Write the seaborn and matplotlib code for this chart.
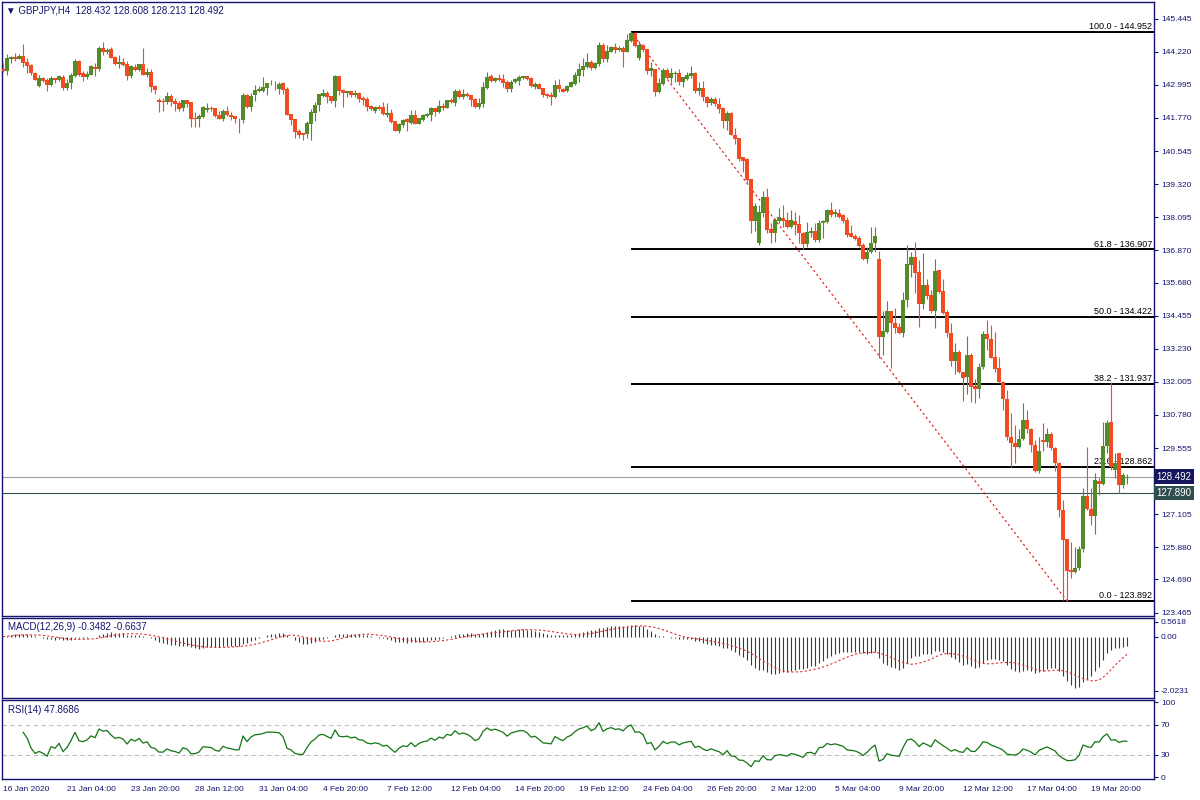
import numpy as np
import pandas as pd
import seaborn as sns
import matplotlib.pyplot as plt
import matplotlib.transforms as mtransforms

# GBPJPY H4 candles, 16 Jan 2020 12:00 -> 23 Mar 2020 08:00
opens = [
    143.583, 143.521, 143.965, 144.027, 143.965, 144.064, 143.829, 143.731, 143.435, 142.953,
    143.250, 143.176, 142.990, 143.250, 143.176, 143.299, 142.892, 143.052, 143.336, 143.879,
    143.422, 143.287, 143.361, 143.669, 143.570, 144.360, 144.212, 144.323, 144.039, 143.768,
    143.842, 143.768, 143.336, 143.669, 143.533, 143.768, 143.361, 143.472, 142.953, 142.448,
    142.411, 142.374, 142.583, 142.398, 142.324, 142.151, 142.435, 142.361, 141.769, 141.744,
    141.806, 142.053, 142.139, 142.127, 141.880, 141.744, 142.028, 141.880, 141.843, 141.744,
    141.695, 142.620, 142.188, 142.620, 142.768, 142.768, 142.892, 143.052, 143.077, 142.842,
    143.052, 142.842, 141.917, 141.732, 141.288, 141.202, 141.165, 141.547, 141.966, 142.238,
    142.595, 142.707, 142.583, 142.398, 143.324, 142.805, 142.707, 142.768, 142.620, 142.707,
    142.509, 142.472, 142.213, 142.040, 142.164, 142.164, 141.880, 141.966, 141.658, 141.300,
    141.510, 141.720, 141.572, 141.880, 141.547, 141.695, 141.843, 141.880, 142.127, 141.979,
    142.226, 142.151, 142.448, 142.337, 142.768, 142.559, 142.657, 142.620, 142.472, 142.188,
    142.287, 142.892, 143.323, 143.138, 143.262, 143.212, 143.101, 142.842, 143.089, 143.138,
    143.237, 143.323, 143.262, 142.929, 143.015, 142.879, 142.657, 142.620, 142.559, 142.990,
    142.842, 142.768, 142.929, 143.027, 143.336, 143.545, 143.657, 143.829, 143.607, 143.755,
    144.471, 143.953, 144.224, 144.397, 144.286, 144.347, 144.224, 144.619, 144.903, 143.977,
    144.471, 144.323, 143.508, 143.583, 142.744, 143.027, 143.545, 143.262, 143.410, 143.434,
    143.114, 143.212, 143.336, 143.423, 142.781, 142.880, 142.559, 142.312, 142.473, 142.288,
    142.127, 141.671, 141.967, 141.153, 141.029, 140.314, 140.240, 139.512, 137.969, 137.155,
    138.266, 138.858, 137.661, 137.525, 137.969, 138.080, 137.994, 137.723, 137.945, 137.846,
    137.525, 137.106, 137.525, 137.587, 137.254, 137.871, 137.920, 138.364, 138.216, 138.266,
    138.167, 137.994, 137.501, 137.414, 137.340, 137.069, 136.551, 136.798, 137.131, 136.551,
    133.676, 133.861, 134.639, 134.194, 134.046, 133.824, 135.033, 136.341, 136.637, 136.082,
    134.885, 135.589, 135.218, 134.626, 136.144, 135.379, 134.602, 133.800, 132.788, 133.097,
    132.381, 132.171, 132.998, 131.850, 131.739, 132.541, 133.775, 133.590, 132.936, 132.504,
    132.011, 131.357, 129.975, 129.729, 129.580, 129.876, 130.592, 130.246, 129.667, 128.717,
    129.852, 129.790, 130.074, 129.543, 128.988, 127.261, 126.188, 125.040, 124.979, 125.102,
    125.805, 127.791, 127.285, 127.039, 128.347, 128.223, 129.630, 130.530, 128.742, 129.358,
    128.186, 128.432,
]
highs = [
    143.792, 144.138, 144.064, 144.162, 144.138, 144.508, 143.977, 143.768, 143.484, 143.361,
    143.299, 143.237, 143.324, 143.262, 143.361, 143.361, 143.213, 143.447, 143.953, 143.916,
    143.521, 143.509, 143.743, 143.817, 144.446, 144.582, 144.347, 144.397, 144.076, 144.113,
    143.990, 143.891, 143.743, 143.768, 143.768, 144.372, 143.607, 143.570, 142.990, 142.497,
    142.497, 142.731, 142.657, 142.497, 142.398, 142.435, 142.435, 142.361, 142.003, 141.905,
    142.201, 142.324, 142.213, 142.151, 142.040, 142.090, 142.213, 141.991, 141.843, 141.781,
    142.707, 142.657, 142.707, 142.990, 142.953, 143.287, 143.064, 143.176, 143.151, 143.114,
    143.089, 142.929, 141.917, 141.732, 141.350, 141.226, 141.670, 142.090, 142.374, 142.657,
    142.830, 142.768, 142.583, 143.361, 143.324, 142.830, 142.781, 142.768, 142.805, 142.744,
    142.583, 142.559, 142.250, 142.213, 142.250, 142.374, 142.337, 142.090, 141.658, 141.572,
    141.720, 141.757, 142.065, 142.065, 141.757, 141.917, 141.966, 142.164, 142.127, 142.435,
    142.312, 142.435, 142.497, 142.830, 142.855, 142.830, 142.744, 142.620, 142.497, 142.522,
    143.114, 143.459, 143.385, 143.299, 143.385, 143.385, 143.175, 143.175, 143.237, 143.361,
    143.336, 143.323, 143.299, 143.089, 143.052, 142.879, 142.682, 142.719, 143.175, 143.212,
    142.867, 142.990, 143.138, 143.484, 143.792, 144.002, 144.162, 143.916, 143.829, 144.594,
    144.532, 144.471, 144.446, 144.532, 144.446, 144.446, 144.866, 144.952, 144.940, 144.619,
    144.495, 144.323, 143.829, 143.583, 143.237, 143.607, 143.607, 143.607, 143.508, 143.583,
    143.287, 143.484, 143.706, 143.484, 143.102, 143.151, 142.584, 142.559, 142.534, 142.497,
    142.189, 142.041, 142.004, 141.387, 141.029, 140.314, 140.277, 139.512, 138.611, 138.549,
    139.080, 139.191, 137.896, 138.080, 138.426, 138.549, 138.302, 138.364, 138.302, 138.179,
    137.562, 137.908, 137.748, 137.871, 137.994, 137.994, 138.401, 138.673, 138.401, 138.401,
    138.216, 138.093, 137.809, 137.476, 137.414, 137.155, 137.007, 137.748, 137.748, 136.859,
    134.639, 135.009, 134.639, 134.725, 134.170, 135.317, 137.069, 136.822, 137.192, 136.514,
    136.761, 135.798, 135.403, 136.538, 136.144, 135.798, 134.663, 134.170, 133.430, 133.183,
    132.381, 133.713, 133.059, 132.097, 132.689, 133.898, 134.293, 134.108, 133.861, 132.936,
    132.048, 131.702, 130.839, 130.407, 130.246, 131.209, 130.962, 130.283, 129.852, 129.975,
    130.493, 130.283, 130.160, 129.605, 129.050, 127.631, 126.188, 126.089, 125.904, 125.929,
    128.063, 129.580, 128.063, 128.618, 128.433, 130.530, 130.592, 132.011, 129.358, 129.383,
    128.618, 128.608,
]
lows = [
    143.484, 143.361, 143.817, 143.891, 143.940, 143.644, 143.447, 143.361, 143.176, 142.929,
    143.102, 142.781, 142.953, 143.077, 143.151, 142.805, 142.818, 142.855, 143.299, 143.324,
    143.151, 143.213, 143.361, 143.336, 143.521, 144.101, 144.138, 143.977, 143.743, 143.620,
    143.694, 143.176, 143.262, 143.496, 143.509, 143.348, 143.299, 142.731, 142.657, 142.003,
    142.040, 142.287, 142.213, 142.040, 142.028, 142.028, 142.188, 141.448, 141.448, 141.448,
    141.769, 142.003, 142.028, 141.794, 141.720, 141.670, 141.843, 141.707, 141.596, 141.226,
    141.596, 142.127, 142.040, 142.411, 142.731, 142.731, 142.620, 142.990, 142.805, 142.657,
    142.657, 141.880, 141.510, 141.017, 141.017, 140.955, 141.017, 140.955, 141.670, 142.040,
    142.559, 142.337, 142.337, 142.188, 142.620, 142.188, 142.559, 142.534, 142.559, 142.374,
    142.250, 142.040, 142.065, 141.942, 142.065, 141.880, 141.818, 141.596, 141.300, 141.202,
    141.424, 141.300, 141.547, 141.547, 141.547, 141.670, 141.794, 141.670, 141.843, 141.942,
    142.065, 142.127, 142.337, 142.213, 142.497, 142.472, 142.559, 142.225, 142.151, 142.102,
    142.188, 142.842, 143.114, 143.089, 143.138, 142.929, 142.744, 142.744, 143.052, 142.990,
    143.200, 143.175, 142.929, 142.830, 142.830, 142.559, 142.497, 142.250, 142.497, 142.744,
    142.719, 142.744, 142.929, 142.990, 143.089, 143.336, 143.632, 143.545, 143.583, 143.706,
    143.854, 143.854, 144.199, 144.162, 144.249, 143.669, 144.199, 144.569, 144.409, 143.916,
    144.224, 143.385, 143.336, 142.596, 142.682, 142.990, 143.212, 143.052, 143.114, 142.990,
    142.929, 143.175, 143.237, 142.707, 142.633, 142.411, 142.189, 142.251, 142.214, 141.967,
    141.399, 141.325, 141.153, 140.807, 140.190, 139.783, 139.327, 137.501, 137.599, 137.069,
    138.117, 137.501, 137.131, 137.192, 137.871, 137.748, 137.686, 137.686, 137.439, 137.131,
    136.909, 137.007, 137.377, 137.192, 137.192, 137.316, 137.896, 138.093, 138.117, 138.056,
    137.871, 137.377, 137.353, 137.254, 137.007, 136.514, 136.391, 136.761, 136.822, 132.874,
    132.998, 133.800, 132.504, 133.824, 133.775, 133.676, 134.787, 135.897, 135.305, 134.022,
    134.688, 135.058, 134.540, 133.985, 135.305, 134.515, 133.652, 132.591, 132.294, 132.319,
    131.308, 131.554, 131.271, 131.209, 131.394, 132.467, 133.183, 132.874, 132.381, 131.949,
    130.962, 129.852, 128.865, 129.013, 129.543, 129.852, 130.098, 129.420, 128.680, 128.618,
    129.457, 129.605, 129.482, 128.717, 127.014, 123.930, 123.892, 124.732, 124.917, 125.040,
    125.719, 127.261, 126.706, 126.373, 127.816, 128.186, 129.358, 128.742, 128.433, 127.878,
    128.063, 128.213,
]
closes = [
    143.521, 143.990, 144.027, 143.940, 144.076, 143.817, 143.706, 143.422, 143.188, 143.237,
    143.151, 142.990, 143.250, 143.176, 143.336, 142.892, 143.052, 143.361, 143.879, 143.361,
    143.299, 143.410, 143.694, 143.583, 144.360, 144.212, 144.298, 144.002, 143.768, 143.842,
    143.731, 143.336, 143.706, 143.546, 143.755, 143.373, 143.472, 142.929, 142.805, 142.374,
    142.374, 142.583, 142.374, 142.287, 142.102, 142.435, 142.287, 141.744, 141.744, 141.843,
    142.176, 142.139, 142.102, 141.855, 141.744, 142.028, 141.880, 141.818, 141.720, 141.720,
    142.620, 142.164, 142.583, 142.805, 142.842, 142.929, 143.064, 143.064, 143.052, 143.027,
    142.805, 141.880, 141.695, 141.263, 141.140, 141.140, 141.572, 142.003, 142.250, 142.657,
    142.707, 142.559, 142.398, 143.324, 142.768, 142.707, 142.781, 142.620, 142.707, 142.472,
    142.435, 142.188, 142.114, 142.188, 142.114, 141.917, 141.966, 141.633, 141.300, 141.547,
    141.695, 141.633, 141.880, 141.547, 141.757, 141.880, 141.917, 142.127, 141.979, 142.213,
    142.127, 142.435, 142.361, 142.768, 142.559, 142.657, 142.583, 142.435, 142.188, 142.312,
    142.916, 143.287, 143.138, 143.262, 143.175, 143.077, 142.842, 143.101, 143.212, 143.299,
    143.323, 143.212, 142.966, 143.027, 142.842, 142.620, 142.596, 142.559, 142.990, 142.842,
    142.744, 142.966, 143.089, 143.361, 143.583, 143.694, 143.854, 143.632, 143.792, 144.471,
    143.953, 144.249, 144.397, 144.286, 144.347, 144.224, 144.656, 144.903, 144.446, 144.471,
    144.286, 143.508, 143.607, 142.744, 143.052, 143.545, 143.262, 143.422, 143.434, 143.114,
    143.287, 143.361, 143.434, 142.781, 142.880, 142.534, 142.337, 142.473, 142.275, 142.115,
    141.671, 141.967, 141.153, 141.004, 140.252, 140.190, 139.475, 137.969, 138.525, 138.278,
    138.858, 137.624, 137.525, 137.994, 138.117, 137.957, 137.723, 137.994, 137.809, 137.501,
    137.106, 137.562, 137.587, 137.254, 137.896, 137.957, 138.364, 138.179, 138.278, 138.117,
    137.969, 137.439, 137.377, 137.291, 137.044, 136.551, 136.798, 137.155, 137.414, 133.676,
    133.898, 134.639, 134.170, 134.009, 133.800, 135.033, 136.366, 136.637, 136.045, 134.885,
    135.589, 135.181, 134.626, 136.107, 135.342, 134.565, 133.800, 132.788, 133.097, 132.356,
    132.134, 132.998, 131.826, 131.739, 132.541, 133.775, 133.578, 132.899, 132.467, 132.011,
    131.357, 129.975, 129.729, 129.580, 129.876, 130.592, 130.246, 129.667, 128.717, 129.457,
    129.790, 130.074, 129.543, 128.988, 127.261, 126.151, 125.003, 124.979, 125.102, 125.805,
    127.791, 127.285, 127.039, 128.371, 128.223, 129.630, 130.493, 128.865, 128.988, 128.186,
    128.556, 128.492,
]

# x axis labels, one every 16 bars
time_labels = ['16 Jan 2020', '21 Jan 04:00', '23 Jan 20:00', '28 Jan 12:00', '31 Jan 04:00',
               '4 Feb 20:00', '7 Feb 12:00', '12 Feb 04:00', '14 Feb 20:00', '19 Feb 12:00',
               '24 Feb 04:00', '26 Feb 20:00', '2 Mar 12:00', '5 Mar 04:00', '9 Mar 20:00',
               '12 Mar 12:00', '17 Mar 04:00', '19 Mar 20:00']
price_ticks = [145.445, 144.220, 142.995, 141.770, 140.545, 139.320, 138.095, 136.870,
               135.680, 134.455, 133.230, 132.005, 130.780, 129.555, 128.330, 127.105,
               125.880, 124.690, 123.465]

# fibonacci retracement
fib_levels = [100.0, 61.8, 50.0, 38.2, 23.6, 0.0]
fib_prices = [144.952, 136.907, 134.422, 131.937, 128.862, 123.892]
fib_from_bar, fib_to_bar = 157, 266

bid_price = 128.492
other_price = 127.890
macd_ticks = [0.5618, 0.0, -2.0231]
macd_tick_labels = ['0.5618', '0.00', '-2.0231']
rsi_ticks = [100, 70, 30, 0]
header = '\u25bc GBPJPY,H4  128.432 128.608 128.213 128.492'
macd_header = 'MACD(12,26,9) -0.3482 -0.6637'
rsi_header = 'RSI(14) 47.8686'

sns.set_style('white')
plt.rcParams['font.family'] = ['Liberation Sans', 'DejaVu Sans']

navy = '#14146e'
green = '#548b2a'
red = '#f24b22'

df = pd.DataFrame({'open': opens, 'high': highs, 'low': lows, 'close': closes})
df['bar'] = np.arange(len(df))
up = df['close'] >= df['open']

# indicators from the closes
ema12 = df['close'].ewm(span=12, adjust=False).mean()
ema26 = df['close'].ewm(span=26, adjust=False).mean()
df['macd'] = ema12 - ema26
df['signal'] = df['macd'].rolling(9, min_periods=1).mean()
delta = df['close'].diff()
gain = delta.clip(lower=0).ewm(alpha=1 / 14, adjust=True, min_periods=5).mean()
loss = (-delta.clip(upper=0)).ewm(alpha=1 / 14, adjust=True, min_periods=5).mean()
df['rsi'] = 100 - 100 / (1 + gain / loss)

fig = plt.figure(figsize=(12, 8), dpi=100)
ax = fig.add_axes([0.0017, 0.23, 0.96, 0.7675])
ax_macd = fig.add_axes([0.0017, 0.1275, 0.96, 0.1])
ax_rsi = fig.add_axes([0.0017, 0.02625, 0.96, 0.09875])
xlim = (-0.25, 287.75)

# candles
colors = np.where(up, green, red)
ax.vlines(df['bar'], df['low'], df['high'], colors=colors, lw=0.8, zorder=4)
body_lo = df[['open', 'close']].min(axis=1)
body_h = (df['close'] - df['open']).abs().clip(lower=0.03)
ax.bar(df['bar'], body_h, bottom=body_lo, width=0.8, color=colors, lw=0, zorder=5)

# fib lines + labels
for lvl, p in zip(fib_levels, fib_prices):
    ax.hlines(p, fib_from_bar, xlim[1], color='black', lw=1.4, zorder=3)
    ax.text(xlim[1] - 0.5, p + 0.02, f'{lvl:.1f} - {p:.3f}', ha='right', va='bottom',
            fontsize=6.5, color='black', zorder=2)
ax.plot([fib_from_bar, fib_to_bar], [fib_prices[0], fib_prices[-1]], color='#e01010',
        lw=0.8, ls=(0, (2, 2.5)), zorder=3)

ax.axhline(bid_price, color='#a0a0a0', lw=0.8, zorder=2)
ax.axhline(other_price, color='#2f4f4f', lw=0.8, zorder=2)

ax.set_xlim(*xlim)
ax.set_ylim(123.338, 146.062)
ax.yaxis.tick_right()
ax.set_yticks(price_ticks)
ax.set_yticklabels([f'{t:.3f}' for t in price_ticks])
ax.set_xticks([])

trans = mtransforms.blended_transform_factory(ax.transAxes, ax.transData)
ax.text(1.002, bid_price, f'{bid_price:.3f}', transform=trans, va='center', ha='left',
        fontsize=7, color='white', zorder=10, clip_on=False,
        bbox=dict(boxstyle='square,pad=0.25', fc='#15155e', ec='none'))
ax.text(1.002, other_price, f'{other_price:.3f}', transform=trans, va='center', ha='left',
        fontsize=7, color='white', zorder=10, clip_on=False,
        bbox=dict(boxstyle='square,pad=0.25', fc='#2f4f4f', ec='none'))
ax.text(0.0035, 0.9935, header, transform=ax.transAxes, va='top', ha='left',
        fontsize=7, color=navy)

# MACD pane
ax_macd.vlines(df['bar'], 0, df['macd'], colors='#2f3f3f', lw=0.8)
sns.lineplot(x='bar', y='signal', data=df, ax=ax_macd, color='#e03030', lw=0.8,
             ls=(0, (2, 2)))
ax_macd.set_xlim(*xlim)
ax_macd.set_ylim(-2.29, 0.70)
ax_macd.yaxis.tick_right()
ax_macd.set_yticks(macd_ticks)
ax_macd.set_yticklabels(macd_tick_labels)
ax_macd.set_xticks([])
ax_macd.text(0.005, 0.95, macd_header, transform=ax_macd.transAxes, va='top', ha='left',
             fontsize=7, color=navy)

# RSI pane
ax_rsi.axhline(70, color='#c0c0c0', lw=0.8, ls=(0, (4, 3)))
ax_rsi.axhline(30, color='#c0c0c0', lw=0.8, ls=(0, (4, 3)))
sns.lineplot(x='bar', y='rsi', data=df, ax=ax_rsi, color='#127512', lw=0.9)
ax_rsi.set_xlim(*xlim)
ax_rsi.set_ylim(-2, 103)
ax_rsi.yaxis.tick_right()
ax_rsi.set_yticks(rsi_ticks)
ax_rsi.set_yticklabels([str(t) for t in rsi_ticks])
ax_rsi.set_xticks(np.arange(len(time_labels)) * 16)
ax_rsi.set_xticklabels(time_labels, ha='left')
ax_rsi.text(0.005, 0.94, rsi_header, transform=ax_rsi.transAxes, va='top', ha='left',
            fontsize=7, color=navy)

for a in (ax, ax_macd, ax_rsi):
    a.set_xlabel('')
    a.set_ylabel('')
    a.grid(False)
    for s in a.spines.values():
        s.set_color(navy)
        s.set_linewidth(1.0)
    a.tick_params(axis='both', direction='out', length=3, width=0.8, color=navy,
                  labelcolor=navy, labelsize=6, pad=2)

fig.savefig('out.png', dpi=100, facecolor='white')
